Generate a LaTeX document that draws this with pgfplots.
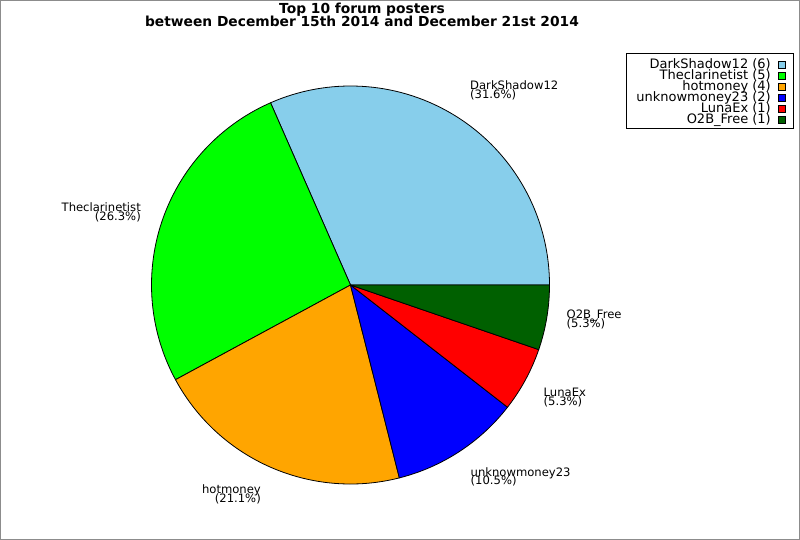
\documentclass[border=0pt]{standalone}
\usepackage{pgfplots}
\pgfplotsset{compat=1.18}
\usepackage{pgfplotstable}
\usepackage{fontspec}
\setmainfont{DejaVu Sans}

\definecolor{cDark}{HTML}{87CEEB}
\definecolor{cThe}{HTML}{00FF00}
\definecolor{cHot}{HTML}{FFA500}
\definecolor{cUnk}{HTML}{0000FF}
\definecolor{cLuna}{HTML}{FF0000}
\definecolor{cOtwo}{HTML}{006000}

% posts per user, in pie order (counter-clockwise from 0 degrees)
\pgfplotstableread{
count color
6 cDark
5 cThe
4 cHot
2 cUnk
1 cLuna
1 cOtwo
}\posters

\newcommand{\lbl}{\fontsize{11.6}{10}\selectfont}
\newcommand{\leg}{\fontsize{13}{10}\selectfont}

\begin{document}
\begin{tikzpicture}
\begin{axis}[
    x=1pt, y=1pt,
    xmin=0, xmax=800, ymin=0, ymax=540,
    scale only axis, hide axis, clip=false,
    anchor=origin, at={(0,0)},
  ]
  % frame of the picture
  \draw[gray!90, line width=1pt] (axis cs:0.5,0.5) rectangle (axis cs:799.5,539.5);

  % pie slices
  \pgfplotsextra{
    \pgfplotstablegetrowsof{\posters}
    \pgfmathtruncatemacro{\nrows}{\pgfplotsretval-1}
    \gdef\total{0}
    \foreach \i in {0,...,\nrows} {
      \pgfplotstablegetelem{\i}{count}\of{\posters}
      \pgfmathsetmacro{\t}{\total+\pgfplotsretval}
      \xdef\total{\t}
    }
    \gdef\angA{0}
    \foreach \i in {0,...,\nrows} {
      \pgfplotstablegetelem{\i}{count}\of{\posters}
      \let\cnt\pgfplotsretval
      \pgfplotstablegetelem{\i}{color}\of{\posters}
      \let\col\pgfplotsretval
      \pgfmathsetmacro{\angB}{\angA+360*\cnt/\total}
      \filldraw[fill=\col, draw=black, line width=0.8pt, line join=round]
        (axis cs:350.5,255) -- ++(\angA:199pt)
        arc[start angle=\angA, end angle=\angB, radius=199pt] -- cycle;
      \xdef\angA{\angB}
    }
  }

  % title
  \node[anchor=base, font=\fontsize{13.8}{14}\selectfont\bfseries] at (axis cs:362,526) {Top 10 forum posters};
  \node[anchor=base, font=\fontsize{13.8}{14}\selectfont\bfseries] at (axis cs:362,513) {between December 15th 2014 and December 21st 2014};

  % slice labels
  \node[anchor=base west, inner sep=0, font=\lbl] at (axis cs:470,450) {DarkShadow12};
  \node[anchor=base west, inner sep=0, font=\lbl] at (axis cs:470,441) {(31.6\%)};
  \node[anchor=base east, inner sep=0, font=\lbl] at (axis cs:141,328.3) {Theclarinetist};
  \node[anchor=base east, inner sep=0, font=\lbl] at (axis cs:141,319.3) {(26.3\%)};
  \node[anchor=base east, inner sep=0, font=\lbl] at (axis cs:261,46) {hotmoney};
  \node[anchor=base east, inner sep=0, font=\lbl] at (axis cs:261,37) {(21.1\%)};
  \node[anchor=base west, inner sep=0, font=\lbl] at (axis cs:470.5,63.3) {unknowmoney23};
  \node[anchor=base west, inner sep=0, font=\lbl] at (axis cs:470.5,55) {(10.5\%)};
  \node[anchor=base west, inner sep=0, font=\lbl] at (axis cs:543.5,143.3) {LunaEx};
  \node[anchor=base west, inner sep=0, font=\lbl] at (axis cs:543.5,134.3) {(5.3\%)};
  \node[anchor=base west, inner sep=0, font=\lbl] at (axis cs:566.5,221) {O2B\_Free};
  \node[anchor=base west, inner sep=0, font=\lbl] at (axis cs:566.5,212) {(5.3\%)};

  % legend
  \draw[black, line width=1pt, fill=white] (axis cs:626,486) rectangle (axis cs:793,411);
  \pgfplotsextra{
    \foreach \nm/\n/\c [count=\k from 0] in {DarkShadow12/6/cDark, Theclarinetist/5/cThe,
        hotmoney/4/cHot, unknowmoney23/2/cUnk, LunaEx/1/cLuna, O2B\_Free/1/cOtwo} {
      \pgfmathsetmacro{\yb}{471.7-11*\k}
      \node[anchor=base east, inner sep=0, font=\leg] at (axis cs:771,\yb) {\nm{} (\n)};
      \filldraw[fill=\c, draw=black, line width=0.8pt]
        (axis cs:778.5,\yb-0.5) rectangle (axis cs:785.5,\yb+7);
    }
  }
\end{axis}
\end{tikzpicture}
\end{document}
